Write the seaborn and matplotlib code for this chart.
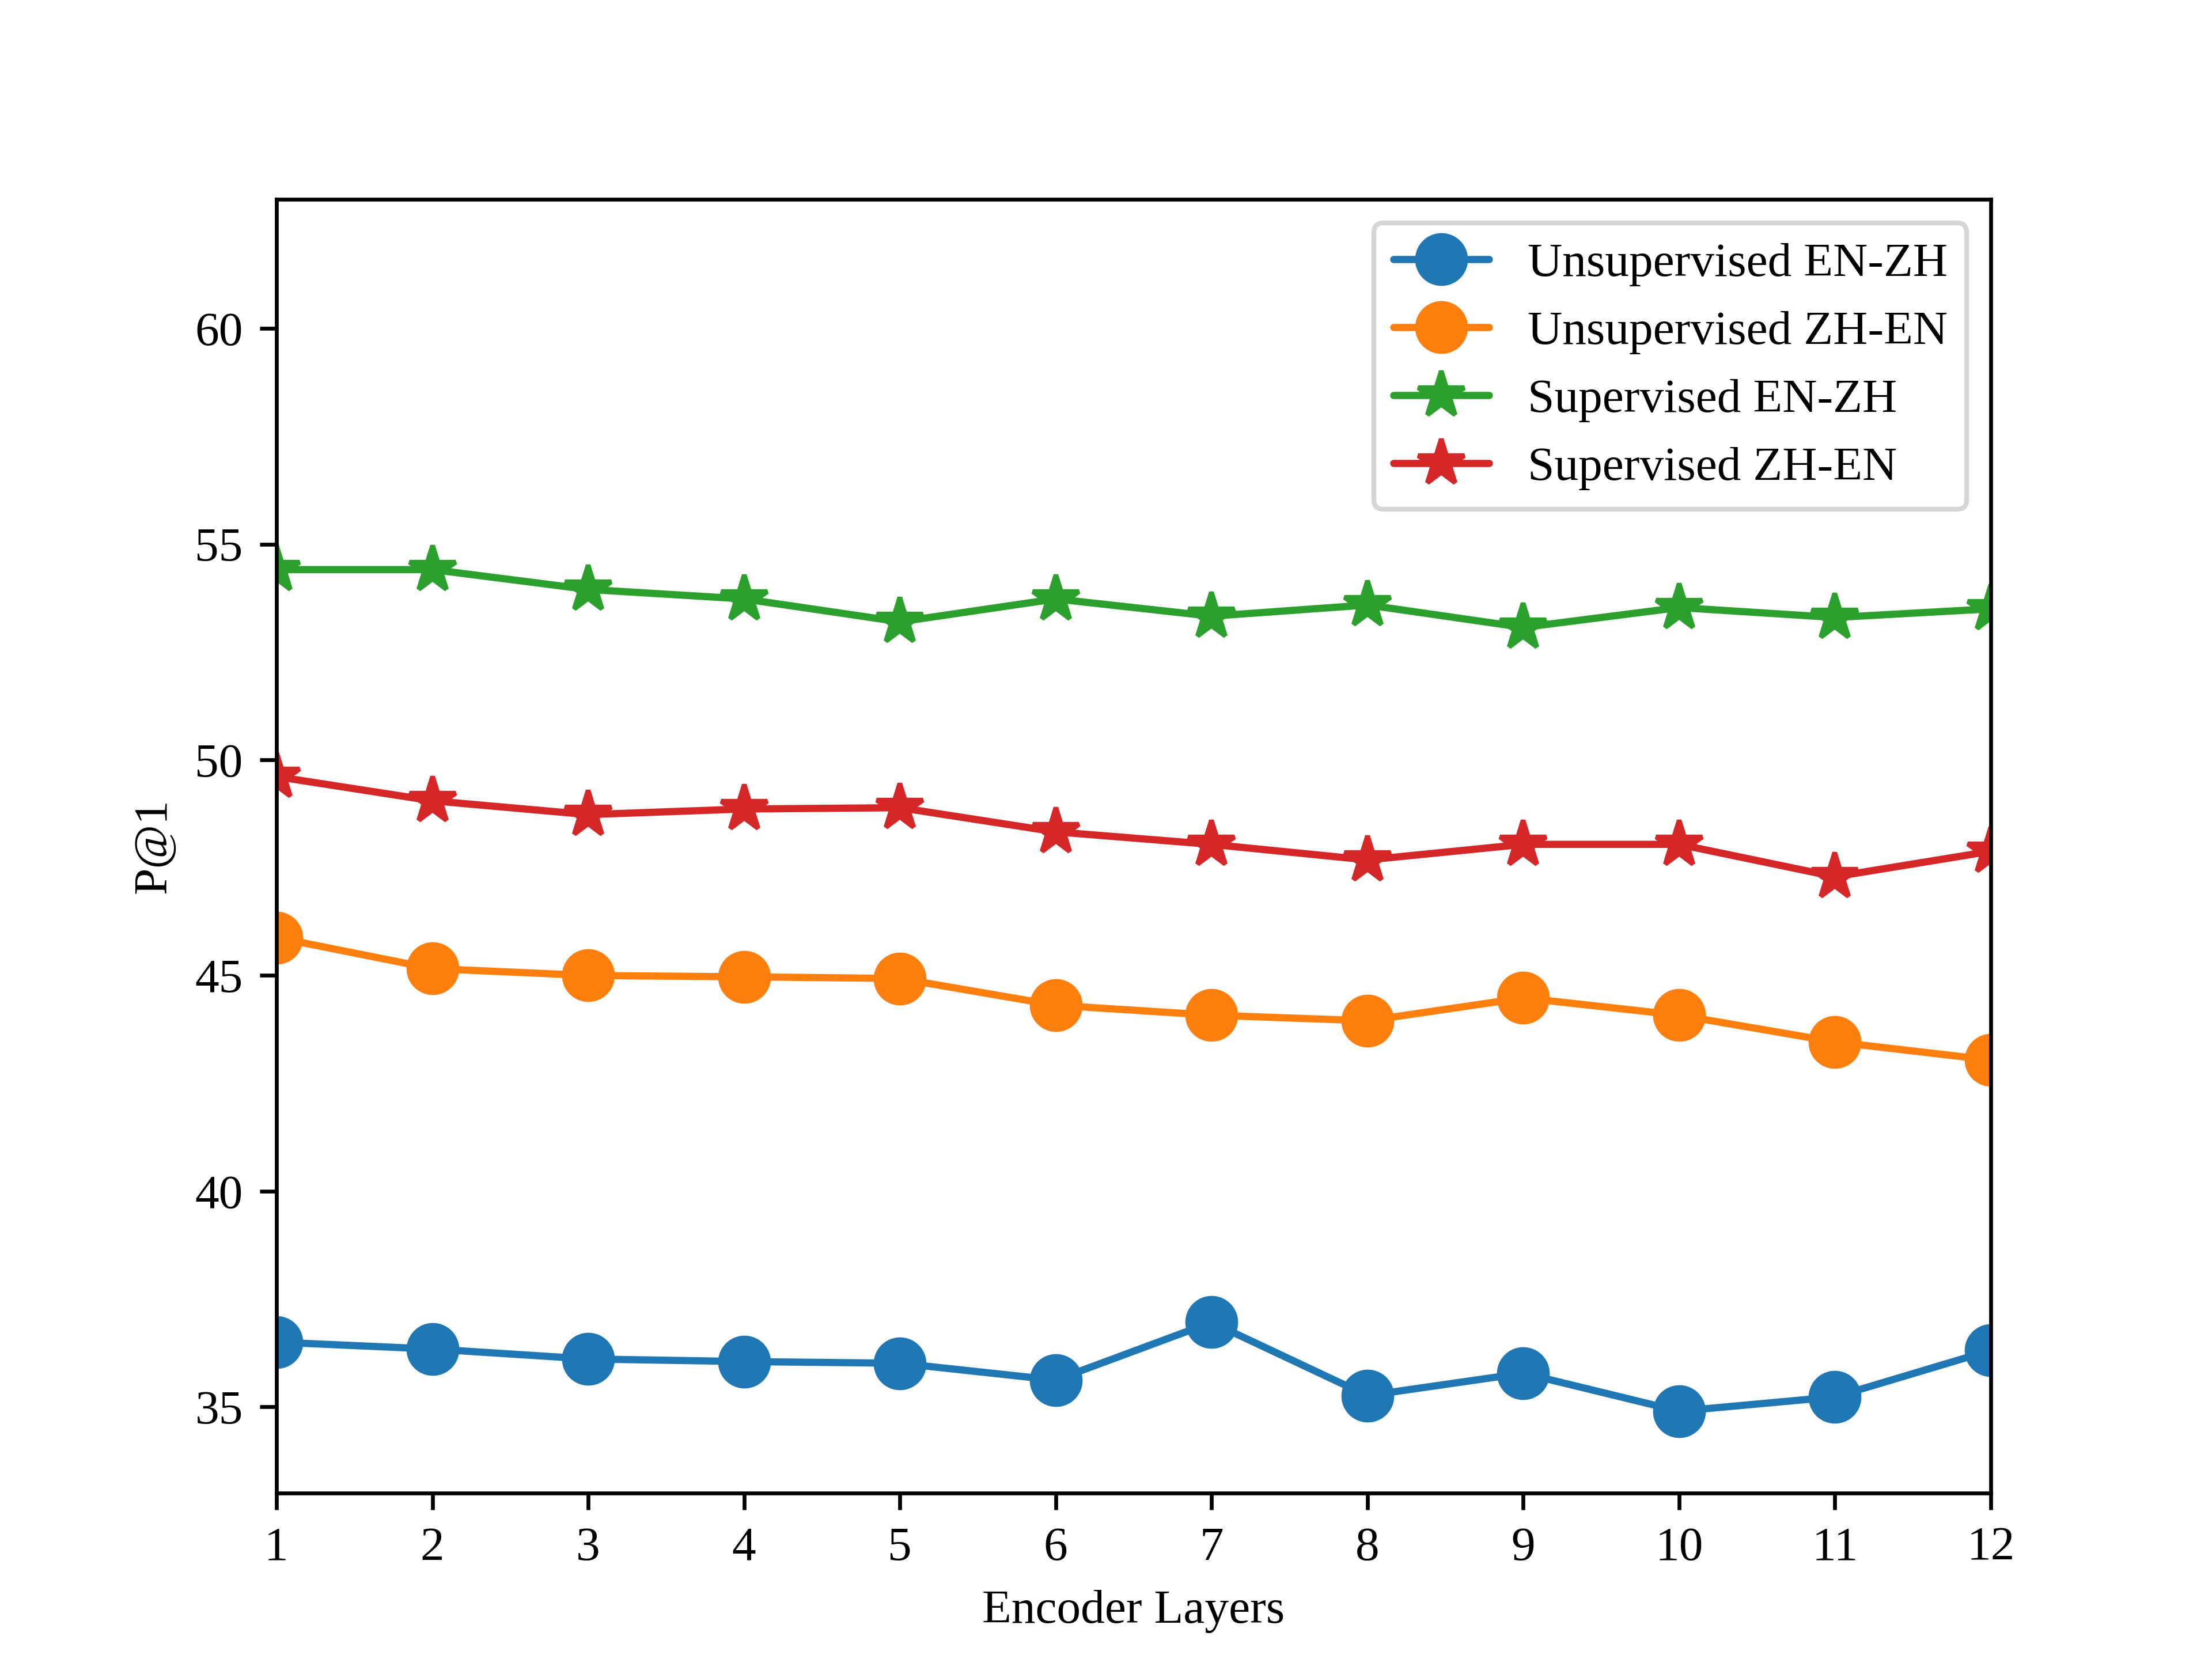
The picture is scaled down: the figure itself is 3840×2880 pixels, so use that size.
import pandas as pd
import matplotlib
matplotlib.use("Agg")
import matplotlib.pyplot as plt
import seaborn as sns

# values
layers = list(range(1, 13))
unsup_en_zh = [36.50, 36.34, 36.11, 36.05, 36.01, 35.62, 36.96, 35.26, 35.78, 34.90, 35.23, 36.31]
unsup_zh_en = [45.88, 45.16, 45.00, 44.97, 44.93, 44.31, 44.08, 43.95, 44.48, 44.08, 43.46, 43.04]
sup_en_zh = [54.41, 54.41, 53.95, 53.73, 53.20, 53.73, 53.33, 53.59, 53.07, 53.53, 53.30, 53.50]
sup_zh_en = [49.61, 49.05, 48.73, 48.86, 48.89, 48.33, 48.04, 47.68, 48.04, 48.04, 47.29, 47.88]

series_names = ["Unsupervised EN-ZH", "Unsupervised ZH-EN", "Supervised EN-ZH", "Supervised ZH-EN"]
series_values = [unsup_en_zh, unsup_zh_en, sup_en_zh, sup_zh_en]
series_markers = ["o", "o", "*", "*"]

sns.set_style("ticks", {
    "axes.edgecolor": "black",
    "xtick.color": "black",
    "ytick.color": "black",
    "text.color": "black",
    "axes.labelcolor": "black",
})
plt.rcParams["font.family"] = ["Liberation Serif", "DejaVu Serif"]
plt.rcParams["axes.linewidth"] = 0.8
plt.rcParams["xtick.major.size"] = 3.5
plt.rcParams["ytick.major.size"] = 3.5
plt.rcParams["xtick.major.width"] = 0.8
plt.rcParams["ytick.major.width"] = 0.8
plt.rcParams["font.size"] = 10

colors = sns.color_palette("tab10", 4)

fig, ax = plt.subplots(figsize=(6.4, 4.8), dpi=600)
fig.subplots_adjust(left=0.125, right=0.9, bottom=0.1, top=0.88)

for name, vals, mk, col in zip(series_names, series_values, series_markers, colors):
    df = pd.DataFrame({"layer": layers, "p1": vals})
    sns.lineplot(
        data=df,
        x="layer",
        y="p1",
        ax=ax,
        color=col,
        marker=mk,
        markersize=10,
        markeredgecolor=col,
        markeredgewidth=1,
        linewidth=1.5,
        label=name
    )

ax.set_xlim(1, 12)
ax.set_ylim(33, 63)
ax.set_xticks(layers)
ax.set_yticks([35, 40, 45, 50, 55, 60])
ax.set_xlabel("Encoder Layers")
ax.set_ylabel("P@1")

ax.legend(loc="upper right", frameon=True, fontsize=10)

plt.savefig("out.png", dpi=600)
plt.close()
